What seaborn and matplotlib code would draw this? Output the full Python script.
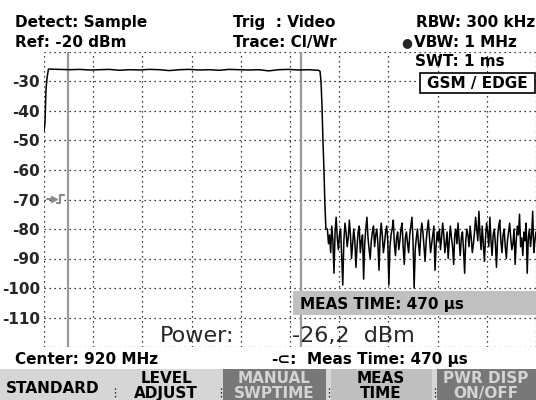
import matplotlib
matplotlib.use('Agg')

import matplotlib.pyplot as plt
import seaborn as sns
import pandas as pd
import numpy as np
from matplotlib.patches import Rectangle

# ---- trace data (time in ms, level in dBm) ----
rise_time = [0.000, 0.002, 0.004, 0.006, 0.009]
rise_dbm = [-47.0, -44.0, -33.0, -29.0, -25.8]

plateau_dbm = [-25.8, -25.9, -26.0, -25.9, -26.1, -26.0, -25.9, -26.2, -26.0, -26.1,
               -25.9, -26.0, -26.3, -26.0, -25.9, -26.1, -26.0, -26.2, -25.9, -26.0,
               -26.1, -26.0, -26.4, -26.0, -25.9, -26.1, -26.0, -26.2]

fall_time = [0.561, 0.563, 0.565, 0.567, 0.569, 0.571, 0.573]
fall_dbm = [-26.5, -30.0, -38.0, -50.0, -60.0, -72.0, -80.0]

noise_dbm = [-80, -85, -82, -88, -79, -84, -95, -81, -76, -83, -87, -82, -80, -89, -99,
             -84, -78, -81, -86, -83,
             -77, -82, -90, -85, -80, -84, -93, -86, -81, -79, -88, -84, -82, -97, -85,
             -80, -76, -83, -87, -90, -84, -81, -79, -86, -82,
             -80, -85, -94, -83, -78, -82, -88, -85, -81, -79, -84, -99, -86, -82, -80,
             -77, -85, -89, -83, -81, -87, -84, -80, -78, -86, -92, -83, -81, -85, -88,
             -82, -79, -76, -84, -100, -87, -83, -80, -85, -89, -82, -78, -81, -86, -91,
             -84, -80, -77, -83, -88, -85, -82, -79, -94, -86, -81, -84, -80, -87, -83,
             -78, -82, -88, -85, -81, -90, -84, -79, -83, -86, -92, -82, -80, -85, -78,
             -84, -89, -83, -81, -87, -95, -84, -80, -82, -86, -79, -83, -88, -85, -81,
             -76, -80, -84, -74, -82, -87, -79, -85, -91, -83, -78, -81, -86, -76, -84,
             -89, -82, -80, -85, -93, -83, -79, -77, -84, -88, -82, -80, -86, -90, -84,
             -81, -78, -83, -87, -85, -80, -92, -84, -79, -82, -75, -86, -83, -89, -81,
             -84, -78, -95, -83, -80, -86, -82, -74, -88, -84, -81]

gate_start, gate_stop = 0.049, 0.522   # measurement time markers (ms)

y_ticks = [-120, -110, -100, -90, -80, -70, -60, -50, -40, -30, -20]
y_labels = ['', '-110', '-100', '-90', '-80', '-70', '-60', '-50', '-40', '-30', '']

time = np.concatenate([rise_time,
                       np.linspace(0.012, 0.558, len(plateau_dbm)),
                       fall_time,
                       np.linspace(0.576, 1.0, len(noise_dbm))])
level = np.concatenate([rise_dbm, plateau_dbm, fall_dbm, noise_dbm])
df = pd.DataFrame({'time': time, 'level': level})

sns.set_style('white')
plt.rcParams['font.family'] = ['DejaVu Sans']

fig = plt.figure(figsize=(5.36, 4.0), dpi=100, facecolor='white')
ax = fig.add_axes([44 / 536, 53 / 400, 492 / 536, 295 / 400])

sns.lineplot(data=df, x='time', y='level', color='black', linewidth=1.1,
             estimator=None, ax=ax)
ax.axvline(gate_start, color='#9a9a9a', lw=1.6, zorder=1)
ax.axvline(gate_stop, color='#9a9a9a', lw=1.6, zorder=1)

ax.set_xlim(0, 1)
ax.set_ylim(-120, -20)
ax.set_xticks(np.linspace(0, 1, 11))
ax.set_xticklabels([])
ax.set_yticks(y_ticks)
ax.set_yticklabels(y_labels, fontsize=11, fontweight='bold')
ax.tick_params(length=0, pad=3)
ax.set_xlabel('')
ax.set_ylabel('')
ax.grid(True, color='black', linestyle=(0, (1, 3)), linewidth=0.9)
for s in ax.spines.values():
    s.set_visible(False)

# ---- overlay in pixel coordinates ----
ov = fig.add_axes([0, 0, 1, 1])
ov.set_xlim(0, 536)
ov.set_ylim(400, 0)
ov.axis('off')
ov.patch.set_visible(False)

bold = dict(fontsize=11, fontweight='bold', va='baseline', color='black')
ov.text(15, 27, 'Detect: Sample', **bold)
ov.text(15, 47, 'Ref: -20 dBm', **bold)
ov.text(233, 27, 'Trig  : Video', **bold)
ov.text(233, 47, 'Trace: Cl/Wr', **bold)
ov.text(535, 27, 'RBW: 300 kHz', ha='right', **bold)
ov.text(401, 46, '●', fontsize=9, va='baseline')
ov.text(414, 47, 'VBW: 1 MHz', **bold)
ov.text(415, 66, 'SWT: 1 ms', **bold)

ov.add_patch(Rectangle((420, 73), 115, 20, facecolor='white', edgecolor='black', lw=1.2))
ov.text(477, 88, 'GSM / EDGE', ha='center', **bold)

# trigger level marker
ov.plot([47, 54], [199, 199], color='#8a8a8a', lw=1.4)
ov.plot([54], [199], marker='>', color='#8a8a8a', markersize=4)
ov.plot([57, 60, 60, 64], [203, 203, 195, 195], color='#8a8a8a', lw=1.6)

ov.add_patch(Rectangle((293, 291), 243, 24, facecolor='#c0c0c0', edgecolor='none'))
ov.text(300, 309, 'MEAS TIME: 470 µs', **bold)

ov.text(160, 342, 'Power:', fontsize=16, va='baseline')
ov.text(292, 342, '-26,2  dBm', fontsize=16, va='baseline')

ov.text(15, 364, 'Center: 920 MHz', **bold)
ov.text(271, 364, '-⊂:', **bold)
ov.text(307, 364, 'Meas Time: 470 µs', **bold)

# ---- softkey bar ----
ov.add_patch(Rectangle((0, 369), 536, 31, facecolor='#d6d6d6', edgecolor='none'))
ov.add_patch(Rectangle((223, 369), 103, 31, facecolor='#787878', edgecolor='none'))
ov.add_patch(Rectangle((331, 369), 101, 31, facecolor='#bfbfbf', edgecolor='none'))
ov.add_patch(Rectangle((437, 369), 99, 31, facecolor='#787878', edgecolor='none'))
for sx in [115, 221, 329, 435]:
    ov.plot([sx, sx], [388, 399], color='black', lw=0.9, linestyle=(0, (1, 2)))

ov.text(53, 393, 'STANDARD', ha='center', **bold)
keys = [(166, 'LEVEL', 'ADJUST', 'black'),
        (274, 'MANUAL', 'SWPTIME', '#d4d4d4'),
        (381, 'MEAS', 'TIME', 'black'),
        (486, 'PWR DISP', 'ON/OFF', '#d4d4d4')]
for kx, l1, l2, kc in keys:
    ov.text(kx, 383, l1, ha='center', fontsize=11, fontweight='bold', va='baseline', color=kc)
    ov.text(kx, 398, l2, ha='center', fontsize=11, fontweight='bold', va='baseline', color=kc)

fig.savefig('out.png', dpi=100, facecolor='white')
